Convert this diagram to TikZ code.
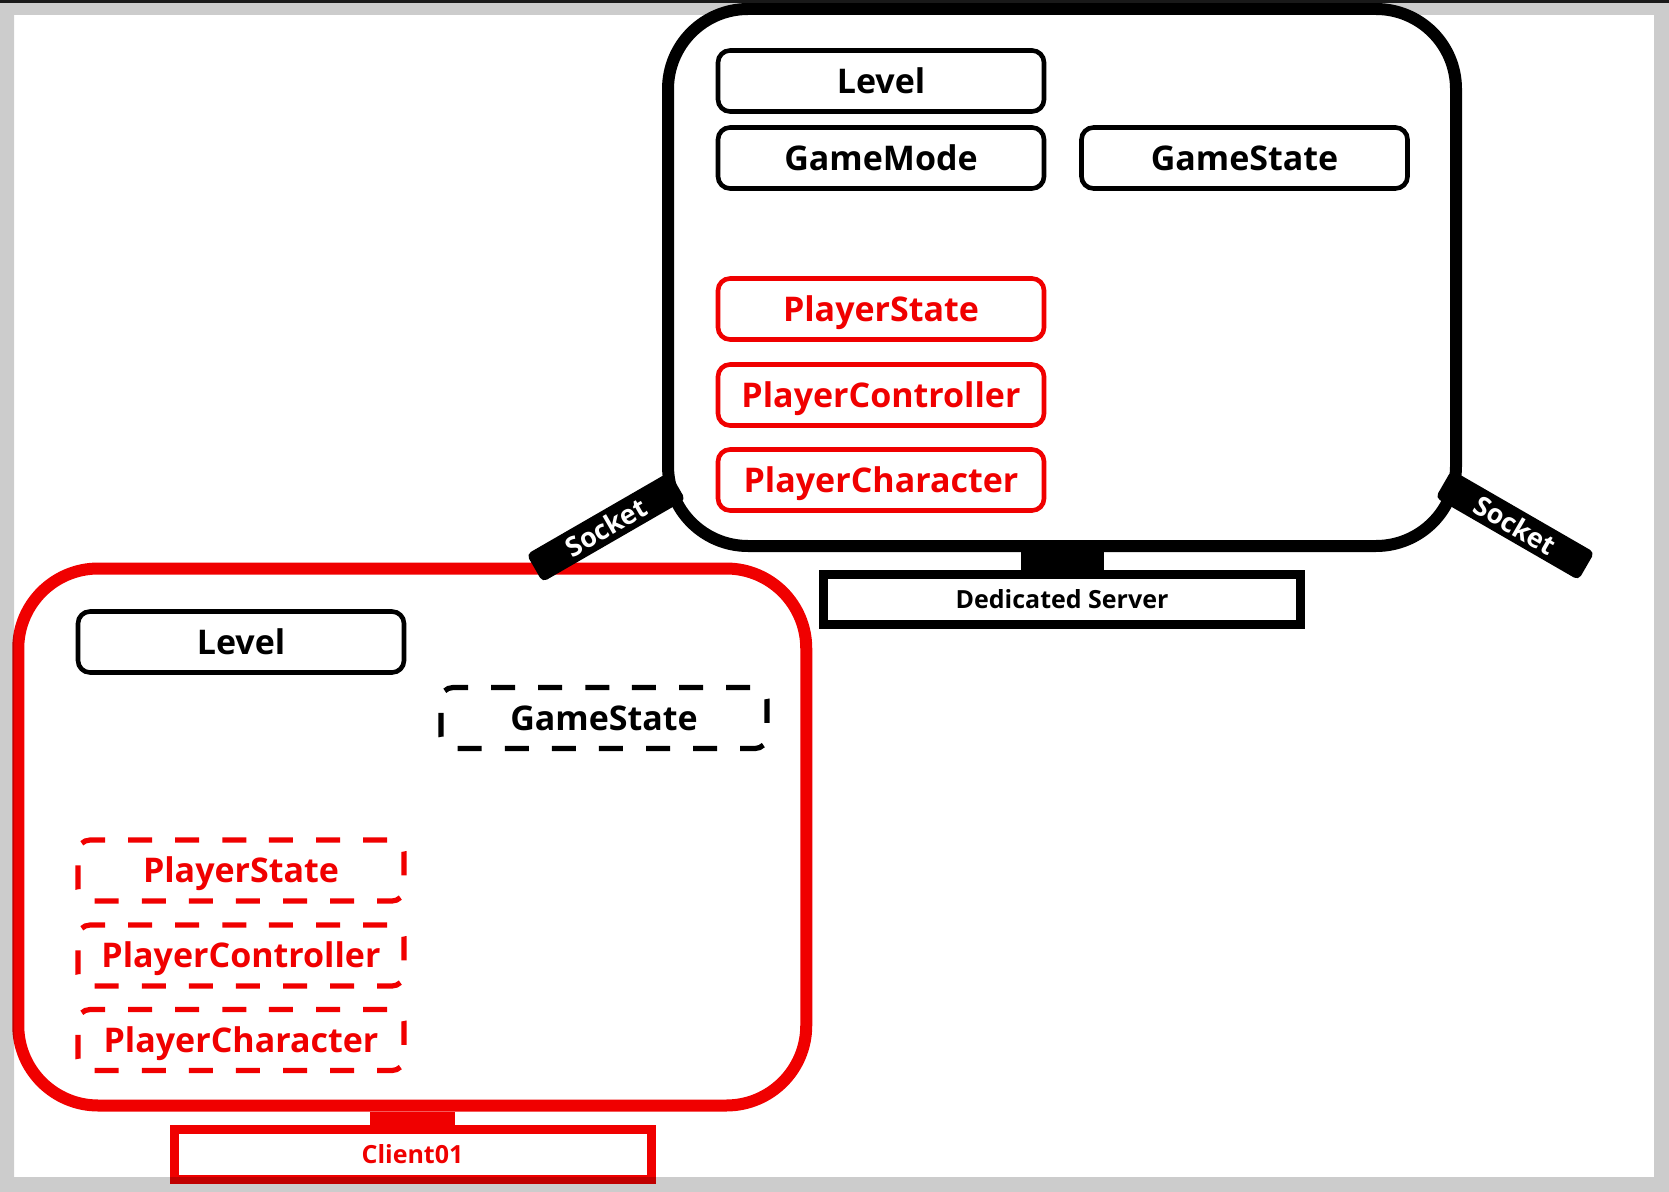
\documentclass[tikz,border=0pt]{standalone}
\usepackage{fontspec}
\setmainfont{Open Sans}
\definecolor{ueRed}{RGB}{240,0,0}

\begin{document}
\begin{tikzpicture}[x=0.5pt, y=-0.5pt,
  objbox/.style={draw, line width=2.3pt, rounded corners=6pt, minimum width=163pt, minimum height=30.5pt, inner sep=0pt, text height=12.1pt, text depth=0pt, font=\fontsize{17}{20}\selectfont\bfseries},
  ghostbox/.style={objbox, draw=none, outer sep=0pt},
  ghostline/.style={line width=2.6pt, rounded corners=6pt, dash pattern=on 12pt off 11.54pt, dash phase=15.55pt},
  machine/.style={draw, line width=6pt, rounded corners=40pt, minimum width=394pt, minimum height=268.5pt},
  namebox/.style={draw, line width=4.5pt, minimum width=238.5pt, minimum height=25pt, inner sep=0pt, text height=8.9pt, text depth=0pt, font=\fontsize{12.5}{15}\selectfont\bfseries},
  socketbar/.style={fill=black, text=white, rounded corners=2.5pt, minimum width=82.5pt, minimum height=16pt, inner sep=0pt, font=\fontsize{13.5}{15}\selectfont\bfseries}]
  \useasboundingbox (0,0) rectangle (1669,1192);
  \fill[white] (0,0) rectangle (1669,1192);
  % draw the dedicated server
  \node[machine] (srv_box) at (1062,277.5) {};
  \node[namebox] (srv_label) at (1062,599.5) {Dedicated Server};
  \fill ([xshift=-20.75pt]srv_box.south) rectangle ([xshift=20.75pt]srv_label.north);
  \node[objbox] (srv_level) at (881,81) {Level};
  \node[objbox] (srv_gamemode) at (881,158) {GameMode};
  \node[objbox] (srv_gamestate) at (1244.5,158) {GameState};
  \node[objbox, draw=ueRed, text=ueRed] (srv_playerstate) at (881,309) {PlayerState};
  \node[objbox, draw=ueRed, text=ueRed] (srv_controller) at (881,395) {PlayerController};
  \node[objbox, draw=ueRed, text=ueRed] (srv_character) at (881,480) {PlayerCharacter};
  % draw the client
  \node[machine, draw=ueRed] (clt_box) at (412.25,837) {};
  \node[namebox, draw=ueRed, text=ueRed] (clt_label) at (412.5,1154.5) {Client01};
  \fill[ueRed] ([xshift=-21pt]clt_box.south) rectangle ([xshift=21pt]clt_label.north);
  \node[objbox] (clt_level) at (241,642) {Level};
  \node[ghostbox] (clt_gamestate) at (604,718) {GameState};
  \node[ghostbox, text=ueRed] (clt_playerstate) at (241,870.5) {PlayerState};
  \node[ghostbox, text=ueRed] (clt_controller) at (241,955.5) {PlayerController};
  \node[ghostbox, text=ueRed] (clt_character) at (241,1040) {PlayerCharacter};
  % dashed outlines of the replicated copies
  \foreach \n/\c in {clt_gamestate/black, clt_playerstate/ueRed, clt_controller/ueRed, clt_character/ueRed}
    \draw[ghostline, draw=\c] (\n.north) -- (\n.north east) -- (\n.south east) -- (\n.south west) -- (\n.north west) -- cycle;
  % draw socket bars
  \node[socketbar, rotate=30] (sock_left) at (606,527) {Socket};
  \node[socketbar, rotate=-30] (sock_right) at (1515,525) {Socket};
  % draw the frame
  \fill[black, fill opacity=0.2, even odd rule] (0,0) rectangle (1669,1192) (14,15) rectangle (1654,1177);
  \fill[black!90] (0,0) rectangle (1669,3);
\end{tikzpicture}
\end{document}
